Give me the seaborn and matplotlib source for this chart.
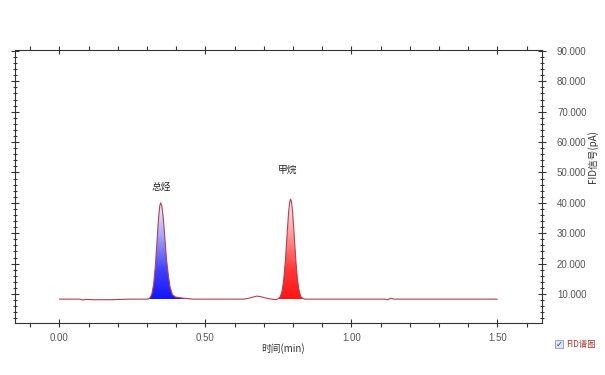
import numpy as np
import pandas as pd
import matplotlib
matplotlib.use("Agg")
import matplotlib.pyplot as plt
import seaborn as sns
from matplotlib.colors import LinearSegmentedColormap
from matplotlib.ticker import MultipleLocator, FuncFormatter
from matplotlib.patches import Rectangle

# ---- data ----
time_min = [0.000, 0.050, 0.070, 0.080, 0.090, 0.120, 0.180, 0.200, 0.250, 0.300,
            0.305, 0.311, 0.317, 0.323, 0.329, 0.335, 0.340, 0.344, 0.347, 0.351,
            0.356, 0.361, 0.367, 0.373, 0.379, 0.387, 0.397, 0.417, 0.437, 0.457,
            0.550, 0.630, 0.645, 0.660, 0.676, 0.690, 0.705, 0.720, 0.735, 0.745,
            0.750, 0.756, 0.762, 0.768, 0.774, 0.780, 0.785, 0.789, 0.792, 0.795,
            0.799, 0.804, 0.810, 0.816, 0.822, 0.828, 0.834, 0.842, 0.860, 1.000,
            1.115, 1.125, 1.135, 1.145, 1.300, 1.500]
signal_pA = [8.3, 8.3, 8.3, 8.0, 8.2, 8.1, 8.1, 8.2, 8.3, 8.3,
             8.4, 8.8, 10.1, 13.3, 19.5, 28.3, 35.4, 39.1, 40.0, 38.9,
             34.8, 28.8, 21.3, 16.2, 12.3, 9.8, 9.0, 8.7, 8.5, 8.3,
             8.3, 8.3, 8.5, 8.9, 9.3, 9.1, 8.7, 8.4, 8.2, 8.2,
             8.5, 9.0, 10.6, 14.2, 20.8, 29.7, 36.8, 40.3, 41.2, 40.3,
             36.8, 29.7, 20.8, 14.2, 10.6, 9.0, 8.5, 8.3, 8.3, 8.3,
             8.3, 8.1, 8.6, 8.3, 8.3, 8.3]
baseline_pA = 8.3

peak_names = ["总烃", "甲烷"]
peak_ranges = [(0.300, 0.460), (0.745, 0.842)]
peak_tops = [40.0, 41.2]
label_pos_t = [0.349, 0.783]
label_pos_y = [45.2, 50.8]

x_ticks = [0.00, 0.50, 1.00, 1.50]
y_ticks = [10, 20, 30, 40, 50, 60, 70, 80, 90]

df = pd.DataFrame({"time": time_min, "signal": signal_pA})

# ---- figure ----
sns.set_theme(style="white")
plt.rcParams['font.family'] = ['Liberation Sans', 'Noto Sans CJK SC', 'DejaVu Sans']

fig = plt.figure(figsize=(6.05, 3.75), dpi=100)
ax = fig.add_axes([0.0248, 0.1387, 0.8706, 0.728])

line_color = "#b2404e"
sns.lineplot(data=df, x="time", y="signal", ax=ax, color=line_color, lw=0.8,
             estimator=None, sort=False, zorder=3)

cmaps = [
    LinearSegmentedColormap.from_list("b", [(0, "#1414ff"), (0.3, "#4040ff"),
                                            (0.65, "#a4a4fa"), (1, "#f6f6ff")]),
    LinearSegmentedColormap.from_list("r", [(0, "#ff1414"), (0.3, "#ff3838"),
                                            (0.65, "#ff9c9c"), (1, "#fff2f2")]),
]
t_arr = np.array(time_min)
s_arr = np.array(signal_pA)
grad = np.linspace(0, 1, 256).reshape(-1, 1)
for (lo, hi), top, cm in zip(peak_ranges, peak_tops, cmaps):
    m = (t_arr >= lo) & (t_arr <= hi)
    poly = ax.fill_between(t_arr[m], baseline_pA, s_arr[m], facecolor="none",
                           edgecolor="none")
    im = ax.imshow(grad, extent=[lo, hi, baseline_pA, top], origin="lower",
                   aspect="auto", cmap=cm, zorder=2, interpolation="bilinear")
    im.set_clip_path(poly.get_paths()[0], transform=ax.transData)

for name, tx, ty in zip(peak_names, label_pos_t, label_pos_y):
    ax.text(tx, ty, name, ha="center", va="center", fontsize=7, color="#222222",
            family=["Noto Sans CJK SC", "DejaVu Sans"])

ax.set_xlim(-0.152, 1.652)
ax.set_ylim(0.45, 90.3)

# ticks
ax.xaxis.set_major_locator(plt.FixedLocator(x_ticks))
ax.xaxis.set_minor_locator(MultipleLocator(0.1))
ax.yaxis.set_major_locator(plt.FixedLocator(y_ticks))
ax.yaxis.set_minor_locator(MultipleLocator(2))
ax.xaxis.set_major_formatter(FuncFormatter(lambda v, p: f"{v:.2f}"))
ax.yaxis.set_major_formatter(FuncFormatter(lambda v, p: f"{v:.3f}"))

ax.tick_params(axis="x", which="major", direction="inout", length=6, width=0.8,
               colors="#333333", labelcolor="#555555", labelsize=7, pad=4,
               top=True, bottom=True)
ax.tick_params(axis="x", which="minor", direction="out", length=3, width=0.8,
               colors="#333333", top=True, bottom=True)
ax.tick_params(axis="y", which="major", direction="inout", length=6, width=0.8,
               colors="#333333", labelcolor="#555555", labelsize=7, pad=8,
               left=True, right=True, labelleft=False, labelright=True)
ax.tick_params(axis="y", which="minor", direction="inout", length=3, width=0.8,
               colors="#333333", left=True, right=True)

for sp in ax.spines.values():
    sp.set_visible(True)
    sp.set_color("#333333")
    sp.set_linewidth(0.8)

ax.set_xlabel("")
ax.set_ylabel("")
fig.text(283 / 605, 1 - 349 / 375, "时间(min)", ha="center", va="center",
         fontsize=7, color="#333333", family=["Noto Sans CJK SC", "DejaVu Sans"])
fig.text(593 / 605, 1 - 157 / 375, "FID信号(pA)", ha="center", va="center",
         rotation=90, fontsize=7, color="#333333",
         family=["Noto Sans CJK SC", "DejaVu Sans"])

# legend checkbox
fig.patches.append(Rectangle((555 / 605, 1 - 348 / 375), 8 / 605, 8 / 375,
                             transform=fig.transFigure, facecolor="#dce6f4",
                             edgecolor="#8899bb", lw=0.6))
fig.text(559 / 605, 1 - 344 / 375, "✓", ha="center", va="center", fontsize=6,
         color="#2a4a8a", family=["DejaVu Sans"])
fig.text(566 / 605, 1 - 344 / 375, "FID谱图", ha="left", va="center",
         fontsize=6, color="#b03030", family=["Noto Sans CJK SC", "DejaVu Sans"])

fig.savefig("out.png", dpi=100)
